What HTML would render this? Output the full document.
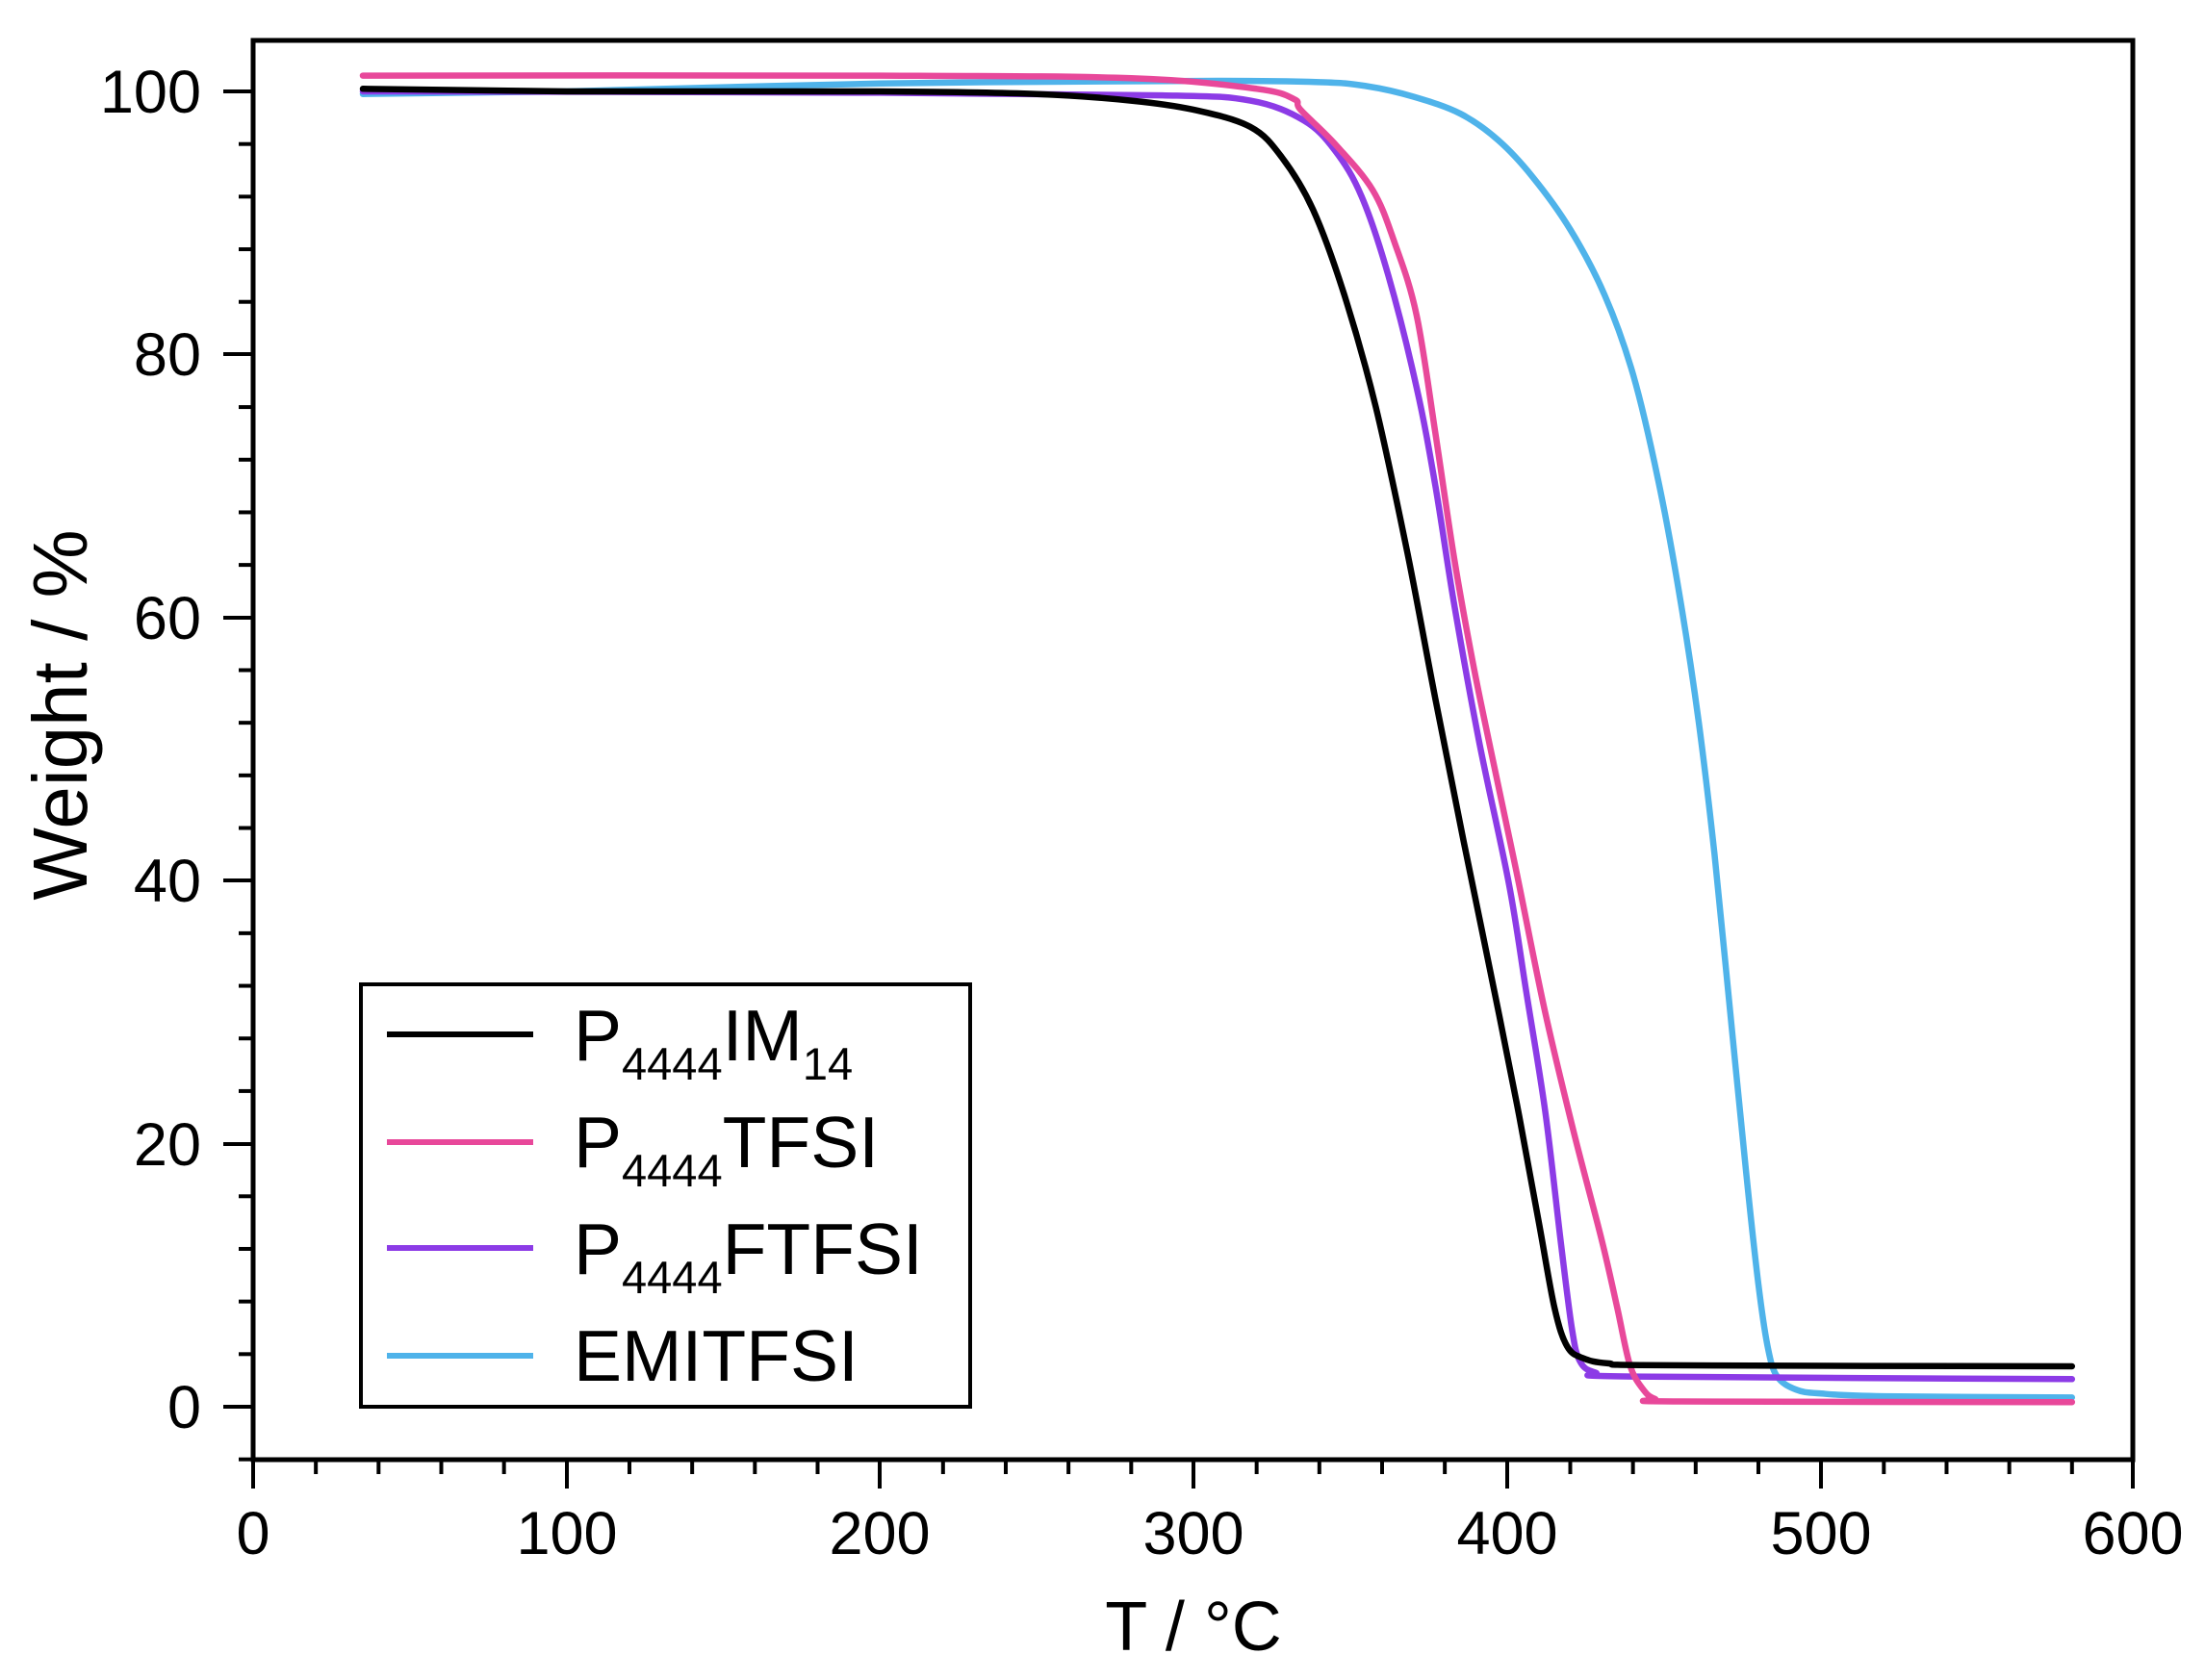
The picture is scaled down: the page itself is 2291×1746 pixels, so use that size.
<!DOCTYPE html>
<html><head><meta charset="utf-8"><style>
html,body{margin:0;padding:0;background:#fff;}
svg{display:block;}
text{font-family:"Liberation Sans",Arial,sans-serif;fill:#000;}
</style></head><body>
<svg width="2291" height="1746" viewBox="0 0 2291 1746" xmlns="http://www.w3.org/2000/svg">
<rect width="2291" height="1746" fill="#fff"/>
<rect x="263" y="42" width="1953" height="1475" fill="none" stroke="#000" stroke-width="5"/>
<g stroke="#000" stroke-width="4">
<line x1="263" y1="1517" x2="263" y2="1547"/><line x1="589" y1="1517" x2="589" y2="1547"/><line x1="914" y1="1517" x2="914" y2="1547"/><line x1="1240" y1="1517" x2="1240" y2="1547"/><line x1="1566" y1="1517" x2="1566" y2="1547"/><line x1="1892" y1="1517" x2="1892" y2="1547"/><line x1="2216" y1="1517" x2="2216" y2="1547"/>
</g>
<g stroke="#000" stroke-width="4" id="xminor"></g>
<g stroke="#000" stroke-width="4" id="yminor"></g>
<g stroke="#000" stroke-width="4">
<line x1="232" y1="1462" x2="263" y2="1462"/><line x1="232" y1="1189" x2="263" y2="1189"/><line x1="232" y1="915" x2="263" y2="915"/><line x1="232" y1="642" x2="263" y2="642"/><line x1="232" y1="368" x2="263" y2="368"/><line x1="232" y1="95" x2="263" y2="95"/>
</g>
<g font-size="63" text-anchor="middle">
<text x="263" y="1615">0</text><text x="589" y="1615">100</text><text x="914" y="1615">200</text><text x="1240" y="1615">300</text><text x="1566" y="1615">400</text><text x="1892" y="1615">500</text><text x="2216" y="1615">600</text>
</g>
<g font-size="63" text-anchor="end">
<text x="209" y="1484">0</text><text x="209" y="1211">20</text><text x="209" y="937">40</text><text x="209" y="664">60</text><text x="209" y="390">80</text><text x="209" y="117">100</text>
</g>
<text x="1240" y="1715" font-size="72" text-anchor="middle">T / °C</text>
<text transform="translate(90,743) rotate(-90)" font-size="80" text-anchor="middle">Weight / %</text>
<g id="curves" fill="none" stroke-width="6.5" stroke-linejoin="round" stroke-linecap="round"></g>
<rect x="375" y="1023" width="633" height="439" fill="#fff" stroke="#000" stroke-width="4"/>
<g stroke-width="6">
<line x1="402" y1="1075" x2="554" y2="1075" stroke="#000"/>
<line x1="402" y1="1187" x2="554" y2="1187" stroke="#e8489a"/>
<line x1="402" y1="1297" x2="554" y2="1297" stroke="#8c3be6"/>
<line x1="402" y1="1409" x2="554" y2="1409" stroke="#4fb3ea"/>
</g>
<g font-size="75">
<text x="596" y="1102">P<tspan font-size="47" dy="20">4444</tspan><tspan dy="-20">IM</tspan><tspan font-size="47" dy="20">14</tspan></text>
<text x="596" y="1213">P<tspan font-size="47" dy="20">4444</tspan><tspan dy="-20">TFSI</tspan></text>
<text x="596" y="1324">P<tspan font-size="47" dy="20">4444</tspan><tspan dy="-20">FTFSI</tspan></text>
<text x="596" y="1435">EMITFSI</text>
</g>
</svg>
<script>
(function(){var ns="http://www.w3.org/2000/svg";
var gx=document.getElementById("xminor");
for(var t=20;t<600;t+=20){if(t%100==0)continue;var x=263+t*3.2583;var l=document.createElementNS(ns,"line");l.setAttribute("x1",x);l.setAttribute("x2",x);l.setAttribute("y1",1517);l.setAttribute("y2",1532);gx.appendChild(l);}
var gy=document.getElementById("yminor");
for(var w=-4;w<=100;w+=4){if(w%20==0)continue;var y=1462-w*13.67;var l2=document.createElementNS(ns,"line");l2.setAttribute("x1",248);l2.setAttribute("x2",263);l2.setAttribute("y1",y);l2.setAttribute("y2",y);gy.appendChild(l2);}
function P(t,w){return [263+t*3.2583,1462-w*13.67];}
function path(arr,color){
 var p=[];for(var i=0;i<arr.length;i+=2)p.push(P(arr[i],arr[i+1]));
 var d="M"+p[0][0].toFixed(1)+","+p[0][1].toFixed(1);
 for(var i=0;i<p.length-1;i++){var p0=p[Math.max(i-1,0)],p1=p[i],p2=p[i+1],p3=p[Math.min(i+2,p.length-1)];
  var c1=[p1[0]+(p2[0]-p0[0])/6,p1[1]+(p2[1]-p0[1])/6],c2=[p2[0]-(p3[0]-p1[0])/6,p2[1]-(p3[1]-p1[1])/6];
  d+=" C"+c1[0].toFixed(1)+","+c1[1].toFixed(1)+" "+c2[0].toFixed(1)+","+c2[1].toFixed(1)+" "+p2[0].toFixed(1)+","+p2[1].toFixed(1);}
 var e=document.createElementNS(ns,"path");e.setAttribute("d",d);e.setAttribute("stroke",color);document.getElementById("curves").appendChild(e);}
path([35,99.8,100,100,200,100.6,300,100.8,340,100.7,355,100.4,370,99.6,385,98.3,397,96.3,408,93.5,420,89.5,431,84.5,440,78.5,448,70.5,455,61.5,461,52,466,42,471,30,476,18,480,9.3,483,4.5,486,2.3,492,1.3,500,1.0,520,0.8,580,0.7],"#4fb3ea");
path([35,100,200,99.9,290,99.7,318,99.3,335,97.8,345,95.5,353.5,92,362,86,371,77.5,377,70,383,61,391,50.5,400.5,39.7,406,31.5,412,22.5,417,12.5,420.5,6,423,3.5,428,2.6,440,2.3,580,2.1],"#8c3be6");
path([35,101.2,200,101.2,280,101,320,100.2,332,99.4,334,98.6,345,96,357,92.5,364,88.5,371,83,377,74,383,64.5,389,56.5,394.6,50,403,40.5,412,30,421,21,430,12.7,435,7.5,439,3.2,443,1.4,447,0.6,455,0.4,580,0.35],"#e8489a");
path([35,100.2,100,100,200,100,250,99.8,280,99.3,300,98.6,318,97.3,328,95,338,91,348,84.5,358,76,368,65,377,53.8,386,43,394.6,33,403,23,410,14,415,7.5,419,4.6,424,3.7,432,3.3,450,3.15,580,3.07],"#000");
})();
</script>
</body></html>
